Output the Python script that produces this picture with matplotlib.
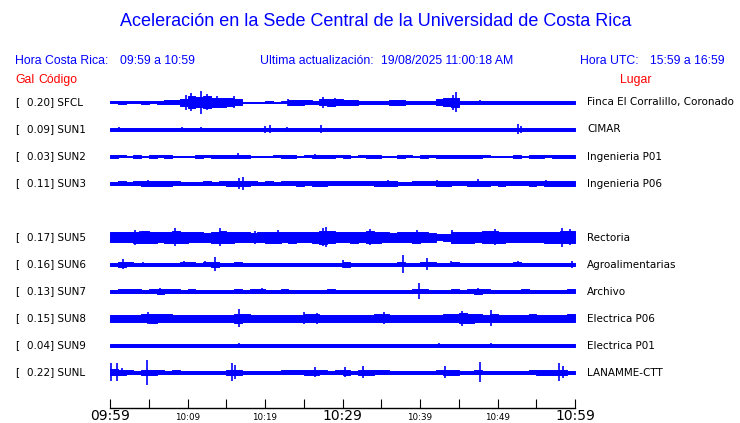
import matplotlib.pyplot as plt
import numpy as np

W, H = 740, 423

codes = ["SFCL", "SUN1", "SUN2", "SUN3", "SUN5", "SUN6", "SUN7", "SUN8", "SUN9", "SUNL"]
gal = [0.20, 0.09, 0.03, 0.11, 0.17, 0.16, 0.13, 0.15, 0.04, 0.22]
lugar = ["Finca El Corralillo, Coronado", "CIMAR", "Ingenieria P01", "Ingenieria P06",
         "Rectoria", "Agroalimentarias", "Archivo", "Electrica P06", "Electrica P01",
         "LANAMME-CTT"]
slot = [0, 1, 2, 3, 5, 6, 7, 8, 9, 10]   # row 4 (SUN4) is empty

tick_min = list(range(0, 61, 5))
tick_lab = ["09:59", "", "10:09", "", "10:19", "", "10:29", "", "10:39", "", "10:49", "", "10:59"]

# envelope of each trace, one value per minute (half amplitude, px)
env = {
    "SFCL": [1.0, 1.2, 1.0, 1.0, 1.2, 1.0, 1.3, 2.0, 2.0, 3.5,
             6.0, 5.0, 6.0, 4.5, 4.5, 4.0, 3.0, 0.8, 0.8, 0.8,
             1.0, 0.8, 1.0, 2.5, 2.5, 2.0, 1.5, 3.0, 3.5, 3.0,
             2.5, 2.5, 1.8, 1.5, 1.5, 1.5, 2.5, 2.5, 1.5, 1.2,
             1.5, 1.2, 3.0, 4.0, 4.5, 1.5, 1.2, 1.5, 1.2, 1.2,
             1.2, 1.2, 1.2, 1.5, 1.5, 1.5, 1.5, 1.5, 1.5, 1.5],
    "SUN1": [1.6, 1.8, 1.6, 1.6, 1.5, 1.7, 1.6, 1.6, 1.6, 1.7,
             1.6, 1.6, 1.7, 1.6, 1.5, 1.6, 1.6, 1.7, 1.6, 1.6,
             1.8, 1.6, 1.7, 1.6, 1.5, 1.6, 1.6, 1.8, 1.6, 1.6,
             1.5, 1.6, 1.6, 1.7, 1.6, 1.6, 1.5, 1.6, 1.6, 1.6,
             1.6, 1.6, 1.5, 1.6, 1.6, 1.6, 1.7, 1.6, 1.5, 1.6,
             1.6, 1.6, 1.8, 1.6, 1.6, 1.5, 1.6, 1.6, 1.6, 1.6],
    "SUN2": [1.2, 1.0, 0.8, 1.2, 0.8, 1.3, 1.0, 1.2, 0.8, 0.6,
             0.6, 1.2, 1.0, 1.2, 1.2, 1.3, 1.5, 1.2, 0.6, 0.6,
             0.8, 1.0, 1.2, 1.3, 0.8, 1.0, 1.3, 1.2, 1.2, 1.0,
             1.2, 0.8, 1.0, 1.3, 1.3, 0.8, 0.6, 1.2, 1.0, 0.8,
             1.2, 1.0, 1.2, 1.3, 1.2, 1.2, 1.2, 1.3, 1.0, 0.6,
             0.8, 0.6, 1.2, 0.8, 1.2, 1.2, 1.0, 1.2, 1.3, 1.2],
    "SUN3": [1.8, 2.0, 1.8, 2.0, 2.2, 2.5, 2.2, 2.2, 2.0, 1.8,
             1.8, 1.8, 2.0, 1.8, 2.0, 2.2, 2.5, 2.5, 2.0, 1.8,
             2.0, 1.8, 2.0, 2.0, 2.2, 2.0, 2.2, 2.2, 2.0, 2.0,
             2.0, 2.0, 2.0, 2.0, 2.2, 2.5, 2.2, 1.8, 1.8, 2.0,
             2.0, 2.0, 2.5, 2.2, 2.0, 2.0, 2.2, 2.5, 2.2, 2.0,
             2.2, 2.0, 2.0, 2.0, 2.2, 2.0, 2.5, 2.2, 2.2, 2.2],
    "SUN5": [5.0, 5.0, 5.0, 5.5, 6.0, 5.5, 5.0, 5.5, 6.0, 5.5,
             5.0, 5.0, 4.5, 5.5, 6.0, 5.5, 5.0, 5.0, 4.5, 5.0,
             5.5, 5.5, 5.0, 5.5, 5.0, 5.0, 5.5, 6.5, 6.0, 5.0,
             5.0, 5.5, 5.0, 6.0, 5.5, 5.0, 4.5, 5.0, 5.0, 5.5,
             5.0, 4.5, 3.0, 3.5, 5.5, 5.5, 5.5, 5.0, 6.0, 6.0,
             5.5, 5.0, 5.0, 5.0, 5.0, 5.0, 5.5, 5.5, 6.0, 6.0],
    "SUN6": [1.7, 2.5, 2.0, 1.7, 1.8, 1.7, 1.7, 1.7, 1.7, 2.0,
             2.0, 1.8, 2.0, 2.2, 1.8, 1.8, 2.0, 1.7, 1.8, 1.8,
             1.8, 1.7, 1.7, 1.7, 1.7, 1.8, 1.7, 1.7, 1.7, 1.8,
             2.2, 1.7, 1.8, 1.7, 1.7, 1.7, 1.7, 2.0, 1.8, 1.8,
             2.0, 2.0, 1.8, 1.8, 2.0, 1.8, 1.8, 1.8, 1.8, 1.8,
             1.8, 1.8, 2.0, 1.8, 1.7, 1.7, 1.8, 1.7, 1.7, 1.8],
    "SUN7": [1.5, 2.0, 2.0, 2.0, 1.8, 2.0, 2.2, 2.0, 2.0, 1.8,
             2.0, 1.8, 1.8, 1.8, 1.5, 1.8, 2.0, 1.8, 2.0, 2.0,
             1.8, 1.8, 2.0, 1.8, 1.8, 1.8, 1.8, 1.8, 2.0, 1.8,
             1.8, 1.8, 1.8, 1.5, 1.8, 1.8, 1.8, 1.5, 1.5, 2.0,
             2.0, 1.8, 1.8, 1.8, 2.0, 1.8, 2.0, 2.2, 2.0, 1.8,
             1.8, 1.8, 1.5, 2.0, 1.8, 1.8, 1.8, 1.8, 1.5, 2.0],
    "SUN8": [3.5, 3.5, 3.5, 3.5, 4.0, 4.5, 4.0, 4.0, 3.5, 3.5,
             3.5, 3.5, 3.5, 3.5, 3.5, 3.5, 4.5, 4.0, 3.5, 3.5,
             3.5, 3.5, 3.5, 3.5, 3.5, 4.0, 4.0, 3.5, 3.5, 3.5,
             3.5, 3.5, 3.5, 3.5, 4.0, 4.0, 3.5, 3.5, 3.5, 3.5,
             3.5, 3.5, 3.5, 4.0, 4.0, 5.0, 4.5, 4.0, 3.5, 4.0,
             3.5, 3.5, 3.5, 3.5, 4.0, 3.5, 3.5, 3.5, 3.5, 4.0],
    "SUN9": [1.5, 1.5, 1.5, 1.5, 1.5, 1.5, 1.5, 1.5, 1.5, 1.5,
             1.5, 1.5, 1.5, 1.5, 1.5, 1.5, 1.7, 1.5, 1.5, 1.5,
             1.5, 1.5, 1.5, 1.5, 1.5, 1.5, 1.5, 1.5, 1.5, 1.5,
             1.5, 1.5, 1.5, 1.5, 1.5, 1.5, 1.5, 1.5, 1.5, 1.5,
             1.5, 1.5, 1.5, 1.5, 1.5, 1.5, 1.5, 1.5, 1.5, 1.5,
             1.5, 1.5, 1.5, 1.5, 1.5, 1.5, 1.5, 1.5, 1.5, 1.5],
    "SUNL": [3.0, 2.5, 2.0, 1.8, 2.5, 2.2, 2.0, 1.8, 2.0, 1.8,
             1.5, 1.5, 1.5, 1.5, 1.8, 2.5, 2.5, 1.5, 1.5, 1.8,
             1.8, 1.8, 2.0, 2.0, 2.0, 2.2, 2.5, 2.0, 1.8, 2.0,
             2.2, 1.8, 2.5, 2.2, 2.0, 2.0, 1.8, 1.8, 1.8, 1.8,
             1.8, 1.8, 2.0, 2.5, 2.2, 1.8, 1.8, 2.0, 1.8, 1.8,
             1.8, 1.8, 1.8, 1.8, 2.0, 2.2, 2.2, 2.5, 2.5, 1.8],
}

# isolated peaks (minute, half amplitude px)
spikes = {
    "SFCL": [(9.8, 7.5), (10.5, 9.0), (11.8, 11.5), (12.5, 8.0), (13.8, 6.0), (16.0, 6.0),
             (23.0, 3.5), (27.5, 5.5), (29.0, 4.5), (44.2, 7.5), (44.6, 10.0), (47.7, 2.5)],
    "SUN1": [(1.1, 2.5), (9.3, 2.5), (11.7, 2.5), (20.0, 3.5), (20.7, 4.0), (22.9, 2.5),
             (27.2, 4.0), (52.7, 5.0), (53.0, 3.5)],
    "SUN2": [(16.5, 3.0), (26.5, 2.5)],
    "SUN3": [(4.9, 3.0), (16.6, 5.5), (17.2, 6.5), (35.9, 3.0), (42.2, 3.0), (47.5, 4.0),
             (56.3, 3.5)],
    "SUN5": [(3.2, 7.5), (3.9, 6.5), (8.4, 9.0), (14.2, 9.0), (18.7, 6.5), (21.7, 7.0),
             (27.5, 9.0), (27.9, 10.0), (33.5, 8.0), (39.6, 7.0), (44.1, 7.0), (49.7, 8.0),
             (58.3, 9.5), (59.4, 8.0)],
    "SUN6": [(1.7, 5.0), (4.2, 2.5), (9.5, 3.0), (12.2, 3.0), (13.5, 7.0), (30.0, 4.0),
             (37.8, 9.0), (40.9, 6.0), (44.0, 3.0), (52.7, 3.0), (59.6, 3.5)],
    "SUN7": [(6.5, 3.0), (19.6, 3.0), (39.9, 8.0), (47.5, 3.0)],
    "SUN8": [(4.9, 6.0), (16.6, 9.0), (25.0, 6.0), (26.7, 5.5), (35.4, 6.0), (43.2, 4.0),
             (45.4, 7.5), (49.2, 8.0)],
    "SUN9": [(16.6, 2.5), (42.4, 2.5), (49.2, 2.5)],
    "SUNL": [(0.1, 9.0), (0.9, 9.0), (1.5, 4.0), (4.8, 12.0), (15.7, 9.0), (16.1, 7.0),
             (26.5, 5.0), (30.3, 5.0), (32.7, 6.0), (43.2, 6.0), (47.7, 10.0), (57.9, 9.0),
             (58.4, 6.0)],
}

blue = "#0000ff"


def px(x, y):
    return x / W, 1 - y / H


fig = plt.figure(figsize=(W / 100, H / 100), dpi=100)
ax = fig.add_axes([110 / W, 15 / H, 465 / W, 323 / H])
ax.set_xlim(0, 60)
ax.set_ylim(408, 85)

edges = np.arange(61)
for code, s in zip(codes, slot):
    yc = 102.5 + 27 * s
    e = np.array(env[code] + [env[code][-1]])
    ax.fill_between(edges, yc - e, yc + e, step="post", color=blue, ec=blue, lw=0.7)
    sx = [p[0] for p in spikes[code]]
    sa = np.array([p[1] for p in spikes[code]])
    ax.vlines(sx, yc - sa, yc + sa, color=blue, lw=1.2)

for side in ["top", "left", "right"]:
    ax.spines[side].set_visible(False)
ax.spines["bottom"].set_linewidth(1)
ax.set_yticks([])
ax.set_xticks(tick_min)
ax.set_xticklabels(tick_lab)
ax.tick_params(axis="x", direction="in", length=6.5, width=0.8, pad=8.6)
for i, lab in enumerate(ax.get_xticklabels()):
    lab.set_verticalalignment("baseline")
    lab.set_fontsize(10 if tick_lab[i] in ("09:59", "10:29", "10:59") else 6.3)

# header texts
fig.text(*px(376, 22), "Aceleración en la Sede Central de la Universidad de Costa Rica",
         ha="center", va="center", color=blue, fontsize=13, family="Liberation Sans")
hdr = dict(va="center", color=blue, fontsize=8.8, family="Liberation Sans")
fig.text(*px(15, 61), "Hora Costa Rica:", **hdr)
fig.text(*px(120, 61), "09:59 a 10:59", **hdr)
fig.text(*px(260, 61), "Ultima actualización:", **hdr)
fig.text(*px(381, 61), "19/08/2025 11:00:18 AM", **hdr)
fig.text(*px(580, 61), "Hora UTC:", **hdr)
fig.text(*px(650, 61), "15:59 a 16:59", **hdr)
red = dict(va="center", color="red", fontsize=8.8, family="Liberation Sans")
fig.text(*px(15, 80), "Gal", **red)
fig.text(*px(38, 80), "Código", **red)
fig.text(*px(620, 80), "Lugar", **red)

for code, g, l, s in zip(codes, gal, lugar, slot):
    yc = 102.5 + 27 * s
    fig.text(*px(15, yc), "[", va="center", fontsize=7.5)
    fig.text(*px(27, yc), f"{g:.2f}] {code}", va="center", fontsize=7.5)
    fig.text(*px(587, yc), l, va="center", fontsize=7.5)

fig.savefig("out.png", dpi=100)
